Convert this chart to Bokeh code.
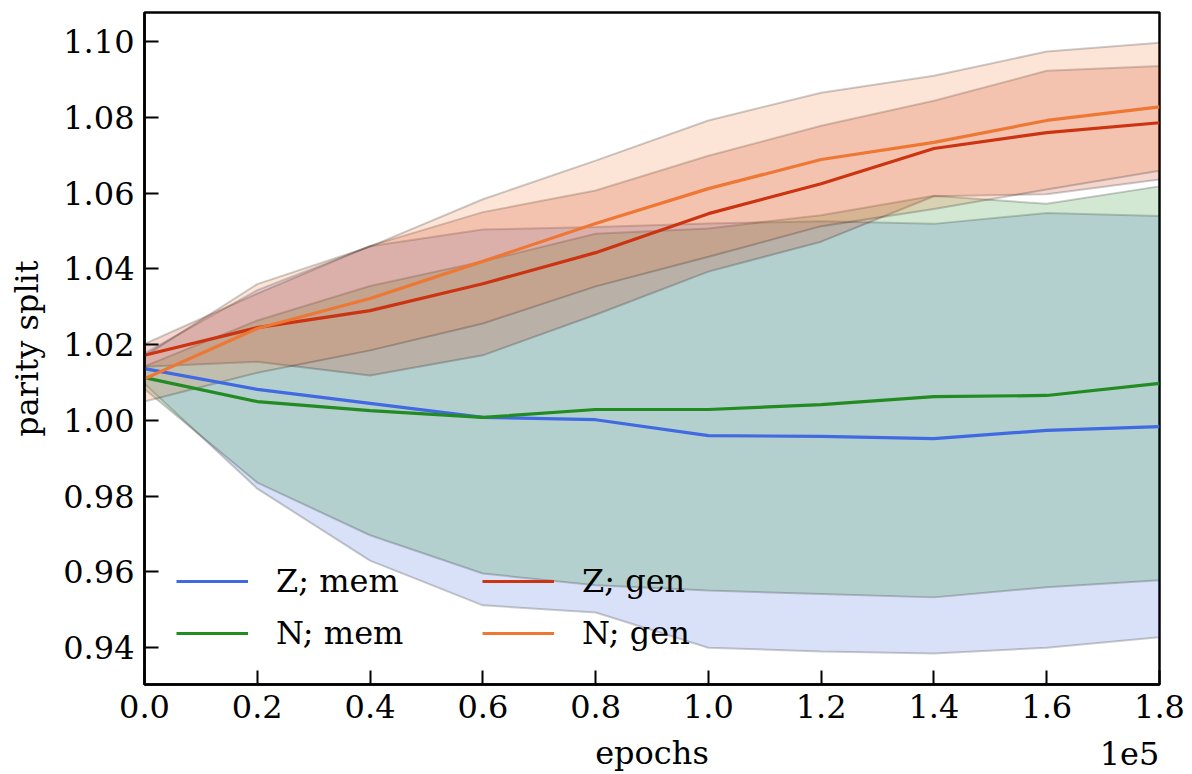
from bokeh.plotting import figure
from bokeh.models import (ColumnDataSource, FixedTicker, CustomJSTickFormatter,
                          PrintfTickFormatter, Legend, LegendItem, Range1d, LinearAxis)
from bokeh.embed import file_html
from bokeh.resources import INLINE

# ---- data ----
epochs = [0, 20000, 40000, 60000, 80000, 100000, 120000, 140000, 160000, 180000]

z_mem_mean = [1.0137, 1.0082, 1.0045, 1.0008, 1.0002, 0.9960, 0.9958, 0.9952, 0.9974, 0.9984]
z_mem_std = [0.0040, 0.0262, 0.0415, 0.0496, 0.0509, 0.0560, 0.0568, 0.0567, 0.0574, 0.0556]

n_mem_mean = [1.0113, 1.0050, 1.0026, 1.0008, 1.0029, 1.0029, 1.0042, 1.0063, 1.0066, 1.0098]
n_mem_std = [0.0030, 0.0214, 0.0329, 0.0412, 0.0464, 0.0478, 0.0500, 0.0530, 0.0506, 0.0520]

z_gen_mean = [1.0172, 1.0245, 1.0290, 1.0361, 1.0443, 1.0546, 1.0625, 1.0718, 1.0760, 1.0786]
z_gen_std = [0.0030, 0.0090, 0.0171, 0.0189, 0.0164, 0.0153, 0.0153, 0.0126, 0.0163, 0.0150]

n_gen_mean = [1.0110, 1.0243, 1.0322, 1.0420, 1.0520, 1.0612, 1.0689, 1.0734, 1.0792, 1.0828]
n_gen_std = [0.0060, 0.0117, 0.0137, 0.0164, 0.0166, 0.0180, 0.0176, 0.0176, 0.0182, 0.0169]

labels = ["Z; mem", "N; mem", "Z; gen", "N; gen"]
colors = ["#4169E1", "#228B22", "#CC3311", "#EE7733"]
means = [z_mem_mean, n_mem_mean, z_gen_mean, n_gen_mean]
stds = [z_mem_std, n_mem_std, z_gen_std, n_gen_std]

x_ticks = [0, 20000, 40000, 60000, 80000, 100000, 120000, 140000, 160000, 180000]
y_ticks = [0.94, 0.96, 0.98, 1.00, 1.02, 1.04, 1.06, 1.08, 1.10]
x_scale_text = "1e5"
x_label = "epochs"
y_label = "parity split"

FONT = "DejaVu Serif"
X_MAX = 180000

p = figure(width=1192, height=774, output_backend="svg", toolbar_location=None,
           x_range=Range1d(0, X_MAX), y_range=Range1d(0.9303, 1.1077),
           min_border_left=144, min_border_right=33, min_border_top=12, min_border_bottom=90)
p.xgrid.visible = False
p.ygrid.visible = False
p.outline_line_color = "black"
p.outline_line_width = 2.5
p.outline_line_alpha = 1.0
p.background_fill_color = "white"
p.border_fill_color = "white"

for ax in (p.xaxis[0], p.yaxis[0]):
    ax.axis_line_width = 2.5
    ax.axis_line_color = "black"
    ax.major_tick_in = 14
    ax.major_tick_out = 0
    ax.major_tick_line_width = 2
    ax.minor_tick_in = 0
    ax.minor_tick_out = 0
    ax.major_label_text_font = FONT
    ax.major_label_text_font_size = "32px"
    ax.major_label_text_color = "black"
    ax.axis_label_text_font = FONT
    ax.axis_label_text_font_size = "32px"
    ax.axis_label_text_font_style = "normal"
    ax.axis_label_text_color = "black"
    ax.major_label_standoff = 10

p.xaxis.ticker = FixedTicker(ticks=x_ticks)
p.yaxis.ticker = FixedTicker(ticks=y_ticks)
p.xaxis.formatter = CustomJSTickFormatter(code="return (tick/1e5).toFixed(1);")
p.yaxis.formatter = PrintfTickFormatter(format="%.2f")
p.yaxis.axis_label = y_label
p.yaxis.axis_label_standoff = 14

# second (label-only) bottom axis carrying the offset text "1e5" and the axis title
scale_tick = X_MAX * (1 - 30.0 / 1015)   # centre of the right-aligned "1e5" text
ax2 = LinearAxis(ticker=FixedTicker(ticks=[scale_tick]),
                 formatter=CustomJSTickFormatter(code="return '%s';" % x_scale_text),
                 axis_line_color=None, major_tick_line_color=None,
                 minor_tick_line_color=None,
                 major_tick_in=0, major_tick_out=0, minor_tick_in=0, minor_tick_out=0,
                 major_label_standoff=21,
                 major_label_text_font=FONT, major_label_text_font_size="32px",
                 major_label_text_color="black",
                 axis_label=x_label, axis_label_standoff=-34,
                 axis_label_text_font=FONT, axis_label_text_font_size="32px",
                 axis_label_text_font_style="normal", axis_label_text_color="black")
p.add_layout(ax2, "below")

# bands
for m, s, c in zip(means, stds, colors):
    upper = [a + b for a, b in zip(m, s)]
    lower = [a - b for a, b in zip(m, s)]
    px = list(epochs) + list(reversed(epochs))
    py = upper + list(reversed(lower))
    p.patch(px, py, fill_color=c, fill_alpha=0.2, line_color="black", line_alpha=0.2, line_width=2)

# lines
renderers = []
for m, c in zip(means, colors):
    src = ColumnDataSource(dict(x=epochs, y=m))
    r = p.line("x", "y", source=src, line_color=c, line_width=3.2)
    renderers.append(r)

def make_legend(items, loc):
    return Legend(items=items, location=loc, background_fill_alpha=0, border_line_alpha=0,
                  label_text_font=FONT, label_text_font_size="32px", label_text_color="black",
                  glyph_width=72, glyph_height=40, label_standoff=28, spacing=12,
                  padding=0, margin=0, label_height=40)

lg1 = make_legend([LegendItem(label=labels[0], renderers=[renderers[0]]),
                   LegendItem(label=labels[1], renderers=[renderers[1]])], (32, 31))
lg2 = make_legend([LegendItem(label=labels[2], renderers=[renderers[2]]),
                   LegendItem(label=labels[3], renderers=[renderers[3]])], (338, 31))
p.add_layout(lg1, "center")
p.add_layout(lg2, "center")

open("out.html", "w").write(file_html(p, INLINE))
